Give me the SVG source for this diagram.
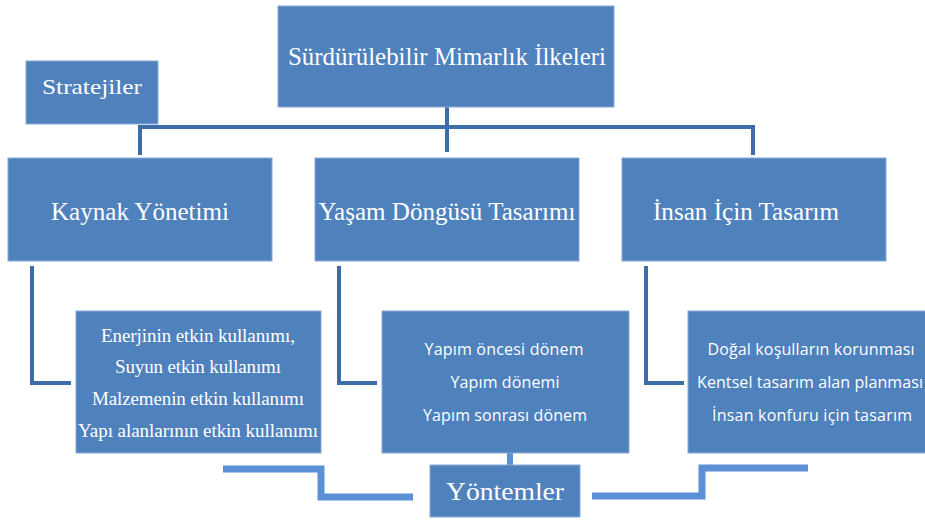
<svg xmlns="http://www.w3.org/2000/svg" width="925" height="521" viewBox="0 0 925 521">
<style>
.box{fill:#4F81BD;stroke:#8AAAD6;stroke-width:1}
.t{fill:#ffffff;text-anchor:middle;font-family:"Liberation Serif","Times New Roman",serif}
.s{fill:#ffffff;text-anchor:middle;font-family:"Open Sans","Noto Sans","Liberation Sans",sans-serif;font-size:16px}
.c{fill:none;stroke:#3E6CA6;stroke-width:4}
.b{fill:none;stroke:#5B8FD6;stroke-width:7}
</style>
<rect width="925" height="521" fill="#ffffff"/>
<g id="connectors">
<path class="c" d="M447 107V152M140 155V127H753V155"/>
<path class="c" d="M32 266V383H71"/>
<path class="c" d="M339 266V383H377"/>
<path class="c" d="M646 266V383H684"/>
<path class="b" d="M223 469H321V497H413"/>
<path class="b" d="M592 496H702V468H808"/>
<path d="M510 453V466" stroke="#5B8FD6" stroke-width="6" fill="none"/>
</g>
<g id="n-top"><rect class="box" x="278" y="6" width="336" height="101"/><text class="t" x="447" y="65" font-size="25" textLength="318" lengthAdjust="spacingAndGlyphs">Sürdürülebilir Mimarlık İlkeleri</text></g>
<g id="n-strat"><rect class="box" x="26" y="61" width="132" height="63"/><text class="t" x="92" y="94" font-size="22" textLength="100" lengthAdjust="spacingAndGlyphs">Stratejiler</text></g>
<g id="n-kaynak"><rect class="box" x="8" y="158" width="264" height="103"/><text class="t" x="140" y="220" font-size="25" textLength="178" lengthAdjust="spacingAndGlyphs">Kaynak Yönetimi</text></g>
<g id="n-yasam"><rect class="box" x="315" y="158" width="264" height="103"/><text class="t" x="447" y="220" font-size="25" textLength="257" lengthAdjust="spacingAndGlyphs">Yaşam Döngüsü Tasarımı</text></g>
<g id="n-insan"><rect class="box" x="622" y="158" width="264" height="103"/><text class="t" x="746" y="220" font-size="25" textLength="186" lengthAdjust="spacingAndGlyphs">İnsan İçin Tasarım</text></g>
<g id="n-kaynak-sub"><rect class="box" x="76" y="311" width="245" height="142"/>
<text class="t" font-size="19" lengthAdjust="spacingAndGlyphs"><tspan x="198" y="342" textLength="194">Enerjinin etkin kullanımı,</tspan><tspan x="198" y="373" textLength="166">Suyun etkin kullanımı</tspan><tspan x="198" y="405" textLength="212">Malzemenin etkin kullanımı</tspan><tspan x="198" y="437" textLength="240">Yapı alanlarının  etkin kullanımı</tspan></text></g>
<g id="n-yasam-sub"><rect class="box" x="382" y="311" width="247" height="142"/>
<text class="s"><tspan x="504" y="355" textLength="159">Yapım öncesi dönem</tspan><tspan x="505" y="388" textLength="109">Yapım dönemi</tspan><tspan x="505" y="421" textLength="164">Yapım sonrası dönem</tspan></text></g>
<g id="n-insan-sub"><rect class="box" x="688" y="311" width="245" height="142"/>
<text class="s"><tspan x="811" y="355" textLength="207">Doğal koşulların korunması</tspan><tspan x="810" y="388" textLength="226">Kentsel tasarım alan planması</tspan><tspan x="812" y="421" textLength="200">İnsan konfuru için tasarım</tspan></text></g>
<g id="n-yontem"><rect class="box" x="430" y="465" width="150" height="52"/><text class="t" x="505" y="500" font-size="26" textLength="118" lengthAdjust="spacingAndGlyphs">Yöntemler</text></g>
</svg>
